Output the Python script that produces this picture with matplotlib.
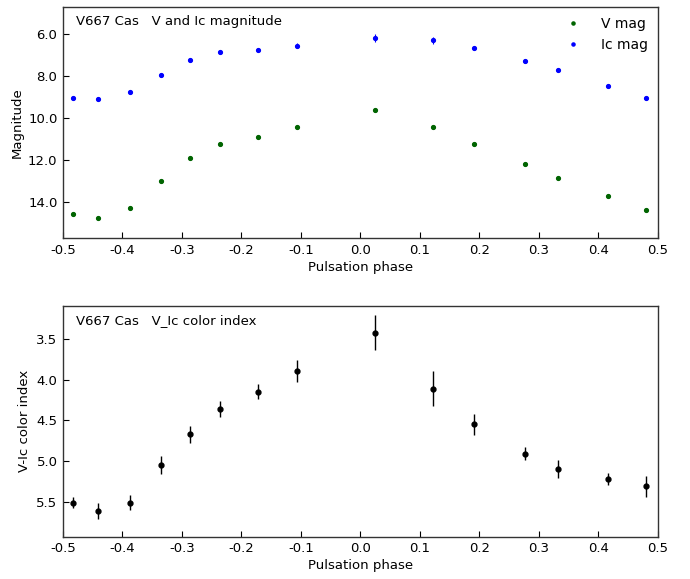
import matplotlib
matplotlib.use("Agg")
import matplotlib.pyplot as plt
from matplotlib.lines import Line2D

phase = [-0.483, -0.442, -0.388, -0.336, -0.286, -0.236, -0.172, -0.107,
         0.024, 0.122, 0.190, 0.276, 0.332, 0.416, 0.480]
v_mag = [14.59, 14.75, 14.29, 13.01, 11.89, 11.24, 10.92, 10.43,
         9.60, 10.43, 11.24, 12.20, 12.86, 13.73, 14.38]
v_err = [0.03, 0.04, 0.04, 0.04, 0.04, 0.04, 0.03, 0.04,
         0.05, 0.05, 0.04, 0.03, 0.04, 0.03, 0.04]
ic_mag = [9.05, 9.11, 8.74, 7.93, 7.22, 6.87, 6.76, 6.55,
          6.19, 6.30, 6.67, 7.27, 7.73, 8.49, 9.05]
ic_err = [0.06, 0.08, 0.08, 0.09, 0.09, 0.08, 0.08, 0.11,
          0.17, 0.17, 0.10, 0.06, 0.09, 0.06, 0.11]
color_idx = [5.51, 5.61, 5.51, 5.05, 4.67, 4.36, 4.15, 3.89,
             3.42, 4.11, 4.55, 4.91, 5.10, 5.22, 5.31]
color_err = [0.072, 0.098, 0.092, 0.107, 0.107, 0.100, 0.092, 0.133,
             0.21, 0.217, 0.125, 0.082, 0.113, 0.076, 0.131]
xticks = [-0.5, -0.4, -0.3, -0.2, -0.1, 0.0, 0.1, 0.2, 0.3, 0.4, 0.5]
xticklabels = ['-0.5', '-0.4', '-0.3', '-0.2', '-0.1', '0.0', '0.1', '0.2', '0.3', '0.4', '0.5']

fig = plt.figure(figsize=(6.9, 5.79), dpi=100)
ax1 = fig.add_axes([0.0913, 0.589, 0.8623, 0.399])
ax2 = fig.add_axes([0.0913, 0.0731, 0.8623, 0.3989])

ax1.errorbar(phase, v_mag, yerr=v_err, fmt='.', color='darkgreen', ms=5.5,
             elinewidth=0.8, capsize=0)
ax1.errorbar(phase, ic_mag, yerr=ic_err, fmt='.', color='blue', ms=5.5,
             elinewidth=0.8, capsize=0)
ax1.set_xlim(-0.5, 0.5)
ax1.set_ylim(15.71, 4.71)
ax1.set_yticks([6, 8, 10, 12, 14])
ax1.set_yticklabels(['6.0', '8.0', '10.0', '12.0', '14.0'])
ax1.set_xticks(xticks)
ax1.set_xticklabels(xticklabels)
ax1.set_xlabel('Pulsation phase', fontsize=9.5, labelpad=3)
ax1.set_ylabel('Magnitude', fontsize=9.5, labelpad=3)
ax1.text(0.022, 0.965, 'V667 Cas   V and Ic magnitude', transform=ax1.transAxes,
         fontsize=9.5, va='top', ha='left')
handles = [Line2D([], [], ls='none', marker='.', color='darkgreen', ms=4.5),
           Line2D([], [], ls='none', marker='.', color='blue', ms=4.5)]
ax1.legend(handles, ['V mag', 'Ic mag'], loc='upper right', frameon=False,
           fontsize=10, handletextpad=1.0, borderaxespad=0.3)

ax2.errorbar(phase, color_idx, yerr=color_err, fmt='o', color='black', ms=3.5,
             elinewidth=1.0, capsize=0)
ax2.set_xlim(-0.5, 0.5)
ax2.set_ylim(5.93, 3.09)
ax2.set_yticks([3.5, 4.0, 4.5, 5.0, 5.5])
ax2.set_xticks(xticks)
ax2.set_xticklabels(xticklabels)
ax2.set_xlabel('Pulsation phase', fontsize=9.5, labelpad=3)
ax2.set_ylabel('V-Ic color index', fontsize=9.5, labelpad=4)
ax2.text(0.022, 0.965, 'V667 Cas   V_Ic color index', transform=ax2.transAxes,
         fontsize=9.5, va='top', ha='left')

for ax in (ax1, ax2):
    ax.tick_params(direction='in', length=4, width=0.8, labelsize=9.5,
                   top=False, right=False, pad=4)
    for s in ax.spines.values():
        s.set_linewidth(1.0)
        s.set_color('#333333')

fig.savefig('out.png', dpi=100)
